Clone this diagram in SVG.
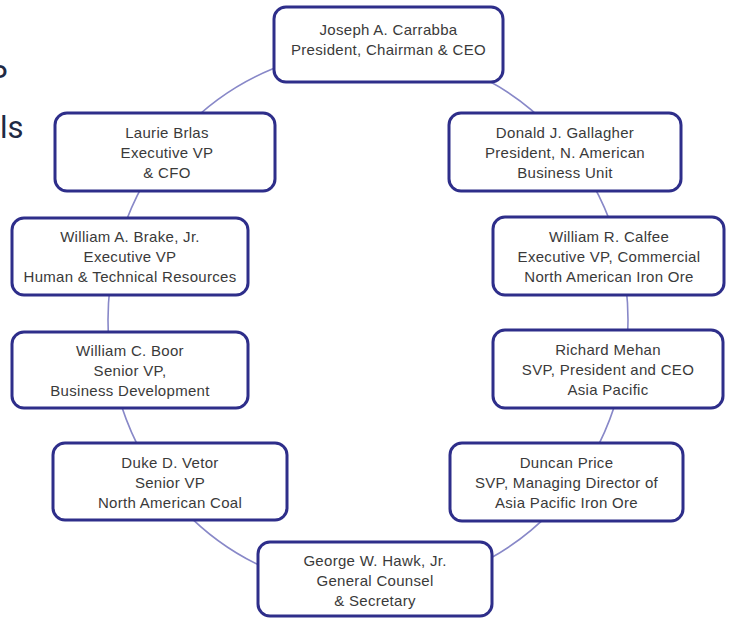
<svg xmlns="http://www.w3.org/2000/svg" width="730" height="618" viewBox="0 0 730 618">
<style>
.box{fill:#ffffff;stroke:#2e2e8a;stroke-width:3}
.t{font-family:"Liberation Sans",Arial,sans-serif;font-size:15px;fill:#3a3a3a;text-anchor:middle;letter-spacing:0.3px}
.frag{font-family:Roboto,"Liberation Sans",sans-serif;font-size:31px;fill:#1f2a44}
.conn{fill:none;stroke:#8888c8;stroke-width:1.6}
</style>
<rect width="730" height="618" fill="#ffffff"/>
<text class="frag" x="-12" y="87">P</text>
<text class="frag" x="0" y="138">ls</text>
<g id="connectors">
<ellipse class="conn" cx="368" cy="320" rx="260" ry="270"/>
</g>
<g id="joseph">
<rect class="box" x="274" y="7" width="229" height="75" rx="12"/>
<text class="t" x="388.5" y="35">Joseph A. Carrabba</text>
<text class="t" x="388.5" y="55">President, Chairman &amp; CEO</text>
</g>
<g id="laurie">
<rect class="box" x="55" y="113" width="220" height="78" rx="12"/>
<text class="t" x="167" y="138">Laurie Brlas</text>
<text class="t" x="167" y="158">Executive VP</text>
<text class="t" x="167" y="178">&amp; CFO</text>
</g>
<g id="donald">
<rect class="box" x="449" y="113" width="232" height="78" rx="12"/>
<text class="t" x="565" y="138">Donald J. Gallagher</text>
<text class="t" x="565" y="158">President, N. American</text>
<text class="t" x="565" y="178">Business Unit</text>
</g>
<g id="brake">
<rect class="box" x="12" y="218" width="236" height="77" rx="12"/>
<text class="t" x="130" y="242">William A. Brake, Jr.</text>
<text class="t" x="130" y="262">Executive VP</text>
<text class="t" x="130" y="282">Human &amp; Technical Resources</text>
</g>
<g id="calfee">
<rect class="box" x="493" y="217" width="231" height="78" rx="12"/>
<text class="t" x="609" y="242">William R. Calfee</text>
<text class="t" x="609" y="262">Executive VP, Commercial</text>
<text class="t" x="609" y="282">North American Iron Ore</text>
</g>
<g id="boor">
<rect class="box" x="12" y="332" width="236" height="76" rx="12"/>
<text class="t" x="130" y="356">William C. Boor</text>
<text class="t" x="130" y="376">Senior VP,</text>
<text class="t" x="130" y="396">Business Development</text>
</g>
<g id="mehan">
<rect class="box" x="493" y="330" width="230" height="78" rx="12"/>
<text class="t" x="608" y="355">Richard Mehan</text>
<text class="t" x="608" y="375">SVP, President and CEO</text>
<text class="t" x="608" y="395">Asia Pacific</text>
</g>
<g id="vetor">
<rect class="box" x="53" y="443" width="234" height="77" rx="12"/>
<text class="t" x="170" y="468">Duke D. Vetor</text>
<text class="t" x="170" y="488">Senior VP</text>
<text class="t" x="170" y="508">North American Coal</text>
</g>
<g id="price">
<rect class="box" x="450" y="443" width="233" height="78" rx="12"/>
<text class="t" x="566.5" y="468">Duncan Price</text>
<text class="t" x="566.5" y="488">SVP, Managing Director of</text>
<text class="t" x="566.5" y="508">Asia Pacific Iron Ore</text>
</g>
<g id="hawk">
<rect class="box" x="258" y="542" width="234" height="74" rx="12"/>
<text class="t" x="375" y="566">George W. Hawk, Jr.</text>
<text class="t" x="375" y="586">General Counsel</text>
<text class="t" x="375" y="606">&amp; Secretary</text>
</g>
</svg>
